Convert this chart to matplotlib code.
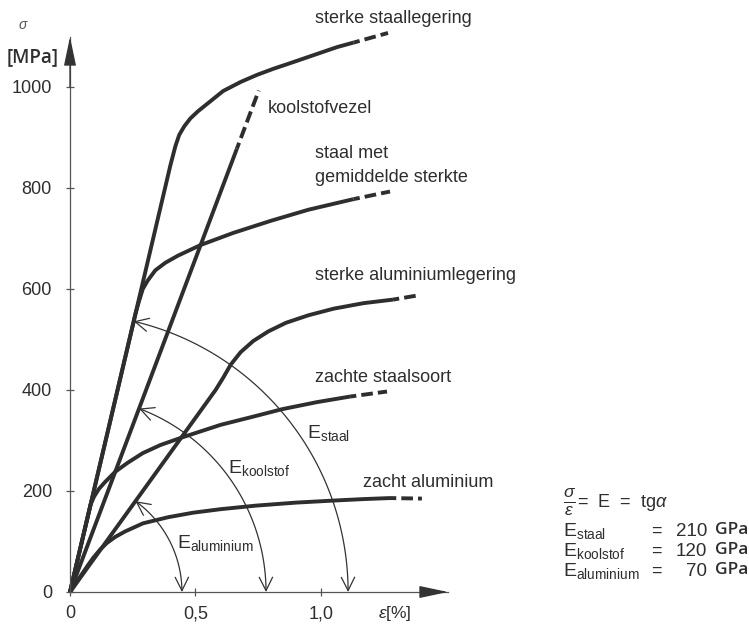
"""
Spanning-rek diagram (sigma-epsilon) voor enkele materialen
"""

import numpy as np
import matplotlib
matplotlib.use("Agg")
import matplotlib.pyplot as plt
from matplotlib.patches import FancyArrowPatch
from matplotlib.path import Path

plt.rcParams["font.family"] = ["Liberation Sans", "DejaVu Sans"]
plt.rcParams["mathtext.fontset"] = "custom"
plt.rcParams["mathtext.rm"] = "Liberation Sans"
plt.rcParams["mathtext.it"] = "Liberation Sans:italic"
plt.rcParams["mathtext.bf"] = "Liberation Sans:bold"

INK = "#2e2e2e"

# ======================================================
# DATA (rek in %, spanning in MPa)
# ======================================================

sterk_staal_eps = [0, 0.40, 0.42, 0.435, 0.455, 0.48, 0.51, 0.55, 0.61, 0.68, 0.745, 0.81, 0.876, 0.97, 1.064, 1.13]
sterk_staal_sig = [0, 845, 883, 905, 922, 938, 952, 968, 992, 1010, 1024, 1036, 1047, 1063, 1079, 1088]
sterk_staal_tail = (1.267, 1107)

koolstof_eps = [0, 0.665]
koolstof_sig = [0, 878]
koolstof_tail = (0.752, 993)

gem_staal_eps = [0, 0.262, 0.275, 0.29, 0.31, 0.34, 0.38, 0.43, 0.52, 0.65, 0.80, 0.95, 1.13]
gem_staal_sig = [0, 553, 576, 600, 617, 637, 652, 666, 687, 711, 735, 757, 778]
gem_staal_tail = (1.275, 793)

sterk_alu_eps = [0, 0.58, 0.61, 0.64, 0.68, 0.73, 0.79, 0.86, 0.95, 1.05, 1.17, 1.287]
sterk_alu_sig = [0, 400, 424, 450, 475, 497, 516, 533, 548, 561, 572, 579]
sterk_alu_tail = (1.394, 588)

zacht_staal_eps = [0, 0.082, 0.095, 0.115, 0.14, 0.18, 0.23, 0.29, 0.36, 0.44, 0.52, 0.60, 0.72, 0.845, 0.984, 1.116]
zacht_staal_sig = [0, 173, 188, 204, 218, 238, 256, 275, 291, 305, 318, 331, 346, 362, 376, 387]
zacht_staal_tail = (1.263, 397)

zacht_alu_eps = [0, 0.04, 0.07, 0.093, 0.12, 0.147, 0.18, 0.22, 0.291, 0.39, 0.49, 0.60, 0.74, 0.90, 1.048, 1.17, 1.275]
zacht_alu_sig = [0, 30, 52, 68, 84, 97, 109, 120, 136, 148, 157, 164, 171, 177, 181, 184, 186]
zacht_alu_tail = (1.402, 185)

# boog-markeringen van de E-modulus (snijpunt met de rek-as)
e_namen = ["staal", "koolstof", "aluminium"]
e_boog_eps = [1.108, 0.781, 0.446]
e_waarden = ["210", "120", "70"]

x_ticks = [0, 0.5, 1.0]
x_labels = ["0", "0,5", "1,0"]
y_ticks = [0, 200, 400, 600, 800, 1000]


# ======================================================
# FIGUUR
# ======================================================

W, H = 749, 625
fig = plt.figure(figsize=(W / 100, H / 100), dpi=100)

x0_px, y0_px, xend_px, ytop_px = 70, 592, 448, 37
ax = fig.add_axes([x0_px / W, (H - y0_px) / H, (xend_px - x0_px) / W, (y0_px - ytop_px) / H])
ax.set_xlim(0, 1.506)
ax.set_ylim(0, 1099)

for s in ["top", "right"]:
    ax.spines[s].set_visible(False)
for s in ["left", "bottom"]:
    ax.spines[s].set_color("#555555")
    ax.spines[s].set_linewidth(0.9)

ax.set_xticks(x_ticks, x_labels)
ax.set_yticks(y_ticks, [str(v) for v in y_ticks])
ax.tick_params(direction="inout", length=6, width=0.9, color="#555555",
               labelsize=13, labelcolor=INK)
ax.tick_params(axis="y", pad=10)
ax.tick_params(axis="x", pad=6.5)

# pijlen aan de assen
pijl = dict(arrowstyle="-|>,head_length=1.8,head_width=0.38", mutation_scale=10,
            color="#333333", lw=0.9, shrinkA=0, shrinkB=0)
ax.annotate("", xy=(0, 1099), xytext=(0, 1000), annotation_clip=False, arrowprops=pijl)
ax.annotate("", xy=(1.506, 0), xytext=(1.40, 0), annotation_clip=False, arrowprops=pijl)

# ======================================================
# CURVES
# ======================================================

curves = [
    (sterk_staal_eps, sterk_staal_sig, sterk_staal_tail),
    (koolstof_eps, koolstof_sig, koolstof_tail),
    (gem_staal_eps, gem_staal_sig, gem_staal_tail),
    (sterk_alu_eps, sterk_alu_sig, sterk_alu_tail),
    (zacht_staal_eps, zacht_staal_sig, zacht_staal_tail),
    (zacht_alu_eps, zacht_alu_sig, zacht_alu_tail),
]

for eps, sig, tail in curves:
    ax.plot(eps, sig, color=INK, lw=2.8, solid_capstyle="butt",
            solid_joinstyle="round", clip_on=False)
    ax.plot([eps[-1], tail[0]], [sig[-1], tail[1]], color=INK, lw=2.8,
            linestyle=(1.4, (3.0, 1.3)), dash_capstyle="butt", clip_on=False)

# ======================================================
# E-BOGEN
# ======================================================

fig.canvas.draw()
bb = ax.get_window_extent()
sx = bb.width / 1.506
sy = bb.height / 1099

hellingen = [sterk_staal_sig[1] / sterk_staal_eps[1],
             koolstof_sig[1] / koolstof_eps[1],
             sterk_alu_sig[1] / sterk_alu_eps[1]]

for r, m in zip(e_boog_eps, hellingen):
    t_end = np.arctan(m * sy / sx)
    t = np.linspace(0, t_end, 80)
    pts = np.column_stack([r * np.cos(t), r * sx / sy * np.sin(t)])
    arc = FancyArrowPatch(path=Path(pts), arrowstyle="<->,head_length=0.8,head_width=0.4",
                          mutation_scale=12, lw=0.9, color="#333333",
                          shrinkA=0, shrinkB=0, transform=ax.transData, clip_on=False)
    ax.add_patch(arc)

# ======================================================
# TEKST
# ======================================================

tk = dict(fontsize=13, color=INK, ha="left", va="baseline")
ax.text(0.976, 1126, "sterke staallegering", **tk)
ax.text(0.789, 948, "koolstofvezel", **tk)
ax.text(0.976, 859, "staal met", **tk)
ax.text(0.976, 812, "gemiddelde sterkte", **tk)
ax.text(0.976, 618, "sterke aluminiumlegering", **tk)
ax.text(0.976, 416, "zachte staalsoort", **tk)
ax.text(1.167, 208, "zacht aluminium", **tk)

tke = dict(fontsize=14, color=INK, ha="left", va="baseline")
ax.text(0.944, 305, r"E$_{\rm staal}$", **tke)
ax.text(0.629, 236, r"E$_{\rm koolstof}$", **tke)
ax.text(0.426, 87, r"E$_{\rm aluminium}$", **tke)

# aslabels
ax.text(-0.187, 1123, r"$\sigma$", fontsize=10, color="#555555", ha="center", va="center")
ax.text(-0.147, 1059, "[MPa]", fontsize=13.5, color=INK, ha="center", va="center",
        family=["Open Sans", "DejaVu Sans"], fontweight="semibold")
ax.text(1.227, -42, r"$\epsilon$[%]", fontsize=12.5, color=INK, ha="left", va="center")

# formule rechts
ax.text(1.964, 178, r"$\frac{\sigma}{\epsilon}$", fontsize=18, color=INK,
        ha="left", va="center")
ax.text(2.02, 178, "=  E  =  tg" + r"$\alpha$", fontsize=13, color=INK,
        ha="left", va="center")
rij_y = [111, 71, 32]
for naam, val, yy in zip(e_namen, e_waarden, rij_y):
    ax.text(1.964, yy, r"E$_{\rm %s}$" % naam, **tke)
    ax.text(2.335, yy, "=", fontsize=13, color=INK, ha="center", va="baseline")
    ax.text(2.538, yy, val, fontsize=13.5, color=INK, ha="right", va="baseline")
    ax.text(2.570, yy + 4, "GPa", fontsize=12.5, color=INK, ha="left", va="baseline",
            family=["Open Sans", "DejaVu Sans"], fontweight="semibold")

fig.savefig("out.png", dpi=100)
plt.close(fig)
